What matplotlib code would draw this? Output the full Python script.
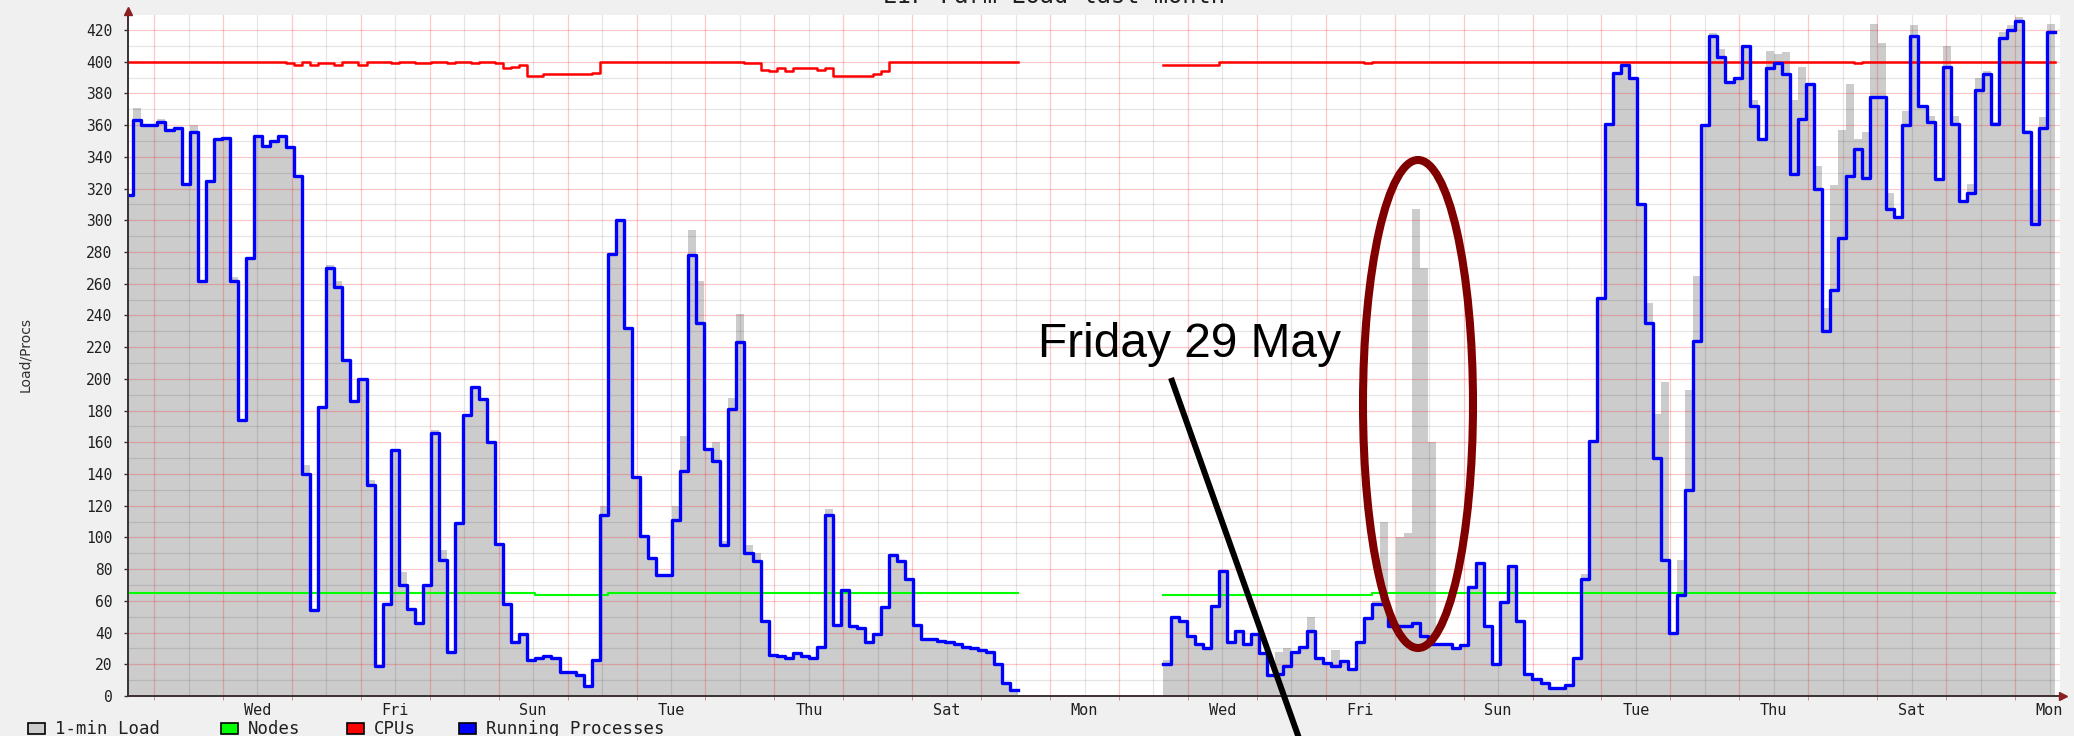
import numpy as np
import matplotlib.pyplot as plt
from matplotlib.patches import Ellipse, Rectangle

W, H = 2074, 736

# one value per 2.8 h bin (first bin is cut by the left edge), None = no data
procs = [
    316, 363, 360, 360, 362, 357, 358, 323, 356, 262,
    325, 351, 352, 262, 174, 276, 353, 347, 350, 353,
    346, 328, 140, 54, 182, 270, 258, 212, 186, 200,
    133, 19, 58, 155, 70, 55, 46, 70, 166, 86,
    28, 109, 177, 195, 187, 160, 96, 58, 34, 39,
    23, 24, 25, 24, 15, 15, 13, 6, 23, 114,
    279, 300, 232, 138, 101, 87, 76, 76, 111, 142,
    278, 235, 156, 148, 95, 181, 223, 90, 85, 47,
    26, 25, 24, 27, 25, 24, 31, 114, 45, 67,
    44, 43, 34, 39, 56, 89, 85, 74, 45, 36,
    36, 35, 34, 33, 31, 30, 29, 28, 20, 8,
    4, None, None, None, None, None, None, None, None, None,
    None, None, None, None, None, None, None, None, None, 20,
    50, 47, 38, 33, 30, 57, 79, 34, 41, 33,
    39, 27, 13, 14, 19, 28, 31, 41, 24, 21,
    19, 22, 17, 34, 49, 58, 58, 44, 44, 44,
    46, 38, 33, 33, 33, 30, 32, 69, 84, 44,
    20, 59, 82, 47, 14, 11, 8, 5, 5, 7,
    24, 74, 161, 251, 361, 393, 398, 390, 310, 235,
    150, 86, 40, 64, 130, 224, 360, 416, 403, 387,
    390, 410, 372, 351, 396, 399, 392, 329, 364, 386,
    320, 230, 256, 289, 328, 345, 327, 378, 378, 307,
    302, 360, 416, 372, 362, 326, 397, 361, 312, 317,
    382, 392, 361, 415, 420, 426, 356, 298, 358, 419,
]

load = [
    316, 371, 360, 360, 364, 357, 358, 323, 360, 262,
    325, 351, 352, 264, 174, 276, 353, 347, 350, 353,
    346, 328, 146, 54, 182, 272, 262, 212, 186, 200,
    136, 19, 58, 155, 78, 55, 46, 70, 168, 92,
    28, 109, 177, 195, 187, 160, 96, 58, 34, 39,
    23, 24, 25, 24, 15, 15, 13, 6, 23, 120,
    279, 300, 232, 138, 101, 87, 76, 76, 120, 164,
    294, 262, 156, 160, 98, 188, 241, 95, 90, 47,
    26, 25, 24, 27, 25, 24, 31, 118, 45, 67,
    44, 43, 34, 39, 56, 89, 85, 74, 45, 36,
    36, 35, 34, 33, 31, 30, 29, 28, 20, 8,
    4, None, None, None, None, None, None, None, None, None,
    None, None, None, None, None, None, None, None, None, 23,
    50, 47, 38, 33, 30, 57, 79, 34, 41, 33,
    39, 27, 13, 28, 30, 28, 31, 50, 24, 21,
    29, 22, 17, 34, 49, 60, 110, 44, 100, 103,
    307, 270, 160, 33, 33, 30, 32, 69, 84, 44,
    20, 59, 82, 47, 14, 11, 8, 5, 5, 7,
    24, 77, 161, 251, 361, 393, 398, 390, 310, 248,
    178, 198, 40, 86, 193, 265, 360, 418, 408, 387,
    390, 410, 376, 351, 407, 405, 406, 376, 397, 386,
    334, 245, 322, 357, 386, 351, 356, 424, 412, 317,
    302, 369, 423, 372, 366, 326, 410, 366, 311, 323,
    390, 394, 362, 419, 423, 428, 357, 319, 365, 424,
]

cpus = [
    400, 400, 400, 400, 400, 400, 400, 400, 400, 400,
    400, 400, 400, 400, 400, 400, 400, 400, 400, 400,
    399, 398, 400, 398, 399, 399, 398, 400, 400, 398,
    400, 400, 400, 399, 400, 400, 399, 399, 400, 400,
    399, 400, 400, 399, 400, 400, 399, 396, 397, 398,
    391, 391, 392, 392, 392, 392, 392, 392, 393, 400,
    400, 400, 400, 400, 400, 400, 400, 400, 400, 400,
    400, 400, 400, 400, 400, 400, 400, 399, 399, 395,
    394, 396, 394, 396, 396, 396, 395, 396, 391, 391,
    391, 391, 391, 392, 394, 400, 400, 400, 400, 400,
    400, 400, 400, 400, 400, 400, 400, 400, 400, 400,
    400, None, None, None, None, None, None, None, None, None,
    None, None, None, None, None, None, None, None, None, 398,
    398, 398, 398, 398, 398, 398, 400, 400, 400, 400,
    400, 400, 400, 400, 400, 400, 400, 400, 400, 400,
    400, 400, 400, 400, 399, 400, 400, 400, 400, 400,
    400, 400, 400, 400, 400, 400, 400, 400, 400, 400,
    400, 400, 400, 400, 400, 400, 400, 400, 400, 400,
    400, 400, 400, 400, 400, 400, 400, 400, 400, 400,
    400, 400, 400, 400, 400, 400, 400, 400, 400, 400,
    400, 400, 400, 400, 400, 400, 400, 400, 400, 400,
    400, 400, 400, 400, 400, 399, 400, 400, 400, 400,
    400, 400, 400, 400, 400, 400, 400, 400, 400, 400,
    400, 400, 400, 400, 400, 400, 400, 400, 400, 400,
]

nodes = [
    65, 65, 65, 65, 65, 65, 65, 65, 65, 65,
    65, 65, 65, 65, 65, 65, 65, 65, 65, 65,
    65, 65, 65, 65, 65, 65, 65, 65, 65, 65,
    65, 65, 65, 65, 65, 65, 65, 65, 65, 65,
    65, 65, 65, 65, 65, 65, 65, 65, 65, 65,
    65, 64, 64, 64, 64, 64, 64, 64, 64, 64,
    65, 65, 65, 65, 65, 65, 65, 65, 65, 65,
    65, 65, 65, 65, 65, 65, 65, 65, 65, 65,
    65, 65, 65, 65, 65, 65, 65, 65, 65, 65,
    65, 65, 65, 65, 65, 65, 65, 65, 65, 65,
    65, 65, 65, 65, 65, 65, 65, 65, 65, 65,
    65, None, None, None, None, None, None, None, None, None,
    None, None, None, None, None, None, None, None, None, 64,
    64, 64, 64, 64, 64, 64, 64, 64, 64, 64,
    64, 64, 64, 64, 64, 64, 64, 64, 64, 64,
    64, 64, 64, 64, 64, 65, 65, 65, 65, 65,
    65, 65, 65, 65, 65, 65, 65, 65, 65, 65,
    65, 65, 65, 65, 65, 65, 65, 65, 65, 65,
    65, 65, 65, 65, 65, 65, 65, 65, 65, 65,
    65, 65, 65, 65, 65, 65, 65, 65, 65, 65,
    65, 65, 65, 65, 65, 65, 65, 65, 65, 65,
    65, 65, 65, 65, 65, 65, 65, 65, 65, 65,
    65, 65, 65, 65, 65, 65, 65, 65, 65, 65,
    65, 65, 65, 65, 65, 65, 65, 65, 65, 65,
]

day_labels = ['Wed', 'Fri', 'Sun', 'Tue', 'Thu', 'Sat', 'Mon',
              'Wed', 'Fri', 'Sun', 'Tue', 'Thu', 'Sat', 'Mon']

legend_items = [('1-min Load', '#cccccc'), ('Nodes', '#00ff00'),
                ('CPUs', '#ff0000'), ('Running Processes', '#0000ff')]

per_day = 24 / 2.8      # bins per day
first_midnight = 2.58   # in bins


def steps(vals):
    v = np.array([np.nan if a is None else a for a in vals], dtype=float)
    edges = np.arange(len(v) + 1) - 1.0
    return np.repeat(edges, 2)[1:-1], np.repeat(v, 2)


mono = 'DejaVu Sans Mono'
fig = plt.figure(figsize=(W / 100, H / 100), dpi=100, facecolor='#f0f0f0')
ax = fig.add_axes([127.7 / W, (H - 696) / H, (2060 - 127.7) / W, (696 - 15) / H])
ax.set_facecolor('white')
ax.set_xlim(-0.7, 239.6)
ax.set_ylim(0, 429.5)

x, y = steps(load)
ax.fill_between(x, 0, y, color='#cccccc', lw=0, zorder=1)

# grid
for v in range(10, 430, 10):
    if v % 20 == 0:
        ax.axhline(v, color='#ff0000', alpha=0.22, lw=0.9, zorder=2)
    else:
        ax.axhline(v, color='black', alpha=0.10, lw=0.9, zorder=2)
midnights = first_midnight + per_day * np.arange(28)
noons = midnights + per_day / 2
for m in midnights:
    ax.axvline(m, color='#ff0000', alpha=0.22, lw=0.9, zorder=2)
for n in noons:
    ax.axvline(n, color='black', alpha=0.10, lw=0.9, zorder=2)

x, y = steps(nodes)
ax.plot(x, y, color='#00ff00', lw=1.5, zorder=3)
x, y = steps(cpus)
ax.plot(x, y, color='#ff0000', lw=1.8, zorder=3)
x, y = steps(procs)
ax.plot(x, y, color='#0000ff', lw=2.4, zorder=4)

for s in ['top', 'right']:
    ax.spines[s].set_visible(False)
for s in ['left', 'bottom']:
    ax.spines[s].set_color('#3c3030')
    ax.spines[s].set_linewidth(1.4)
    ax.spines[s].set_zorder(5)

ax.set_yticks(range(0, 421, 20))
ax.tick_params(axis='y', length=3, width=1, color='#3c3030', pad=8,
               labelsize=10.5, labelcolor='#202020')
label_pos = first_midnight + per_day * (1.5 + 2 * np.arange(len(day_labels)))
ax.set_xticks(label_pos, labels=day_labels)
ax.set_xticks(midnights[midnights < 239.6], minor=True)
ax.tick_params(axis='x', which='major', length=0, pad=5,
               labelsize=11, labelcolor='#202020')
ax.tick_params(axis='x', which='minor', length=3, color='#c08080')
for lab in ax.get_xticklabels() + ax.get_yticklabels():
    lab.set_family(mono)

# overlay in pixel coordinates for title, legend and the hand annotations
ov = fig.add_axes([0, 0, 1, 1], facecolor='none')
ov.set_xlim(0, W)
ov.set_ylim(H, 0)
ov.axis('off')

ov.text(1054, 3, 'EIF Farm Load last month', family=mono, fontsize=17,
        ha='center', va='baseline', color='#202020')
ov.text(25, 355, 'Load/Procs', rotation=90, fontsize=10, ha='center',
        va='center', color='#303030')
ov.plot([128], [11], marker='^', ms=6, color='#8b2020', clip_on=False)
ov.plot([2063], [696], marker='>', ms=6, color='#8b2020', clip_on=False)

box_x = [28, 221, 347, 459]
for (name, col), bx in zip(legend_items, box_x):
    ov.add_patch(Rectangle((bx, 723), 17, 11, facecolor=col,
                           edgecolor='black', lw=1.2))
    ov.text(bx + 27, 728.5, name, family=mono, fontsize=12.5, ha='left',
            va='center', color='#202020')

ov.add_patch(Ellipse((1418, 404), 110, 488, fill=False,
                     edgecolor='#800000', lw=5.8))
ov.plot([1171, 1311], [378, 772], color='black', lw=4.3,
        solid_capstyle='butt')
ov.text(1038, 357, 'Friday 29 May', family='Liberation Sans', fontsize=34.5,
        ha='left', va='baseline', color='black')

fig.savefig('out.png', dpi=100, facecolor=fig.get_facecolor())
